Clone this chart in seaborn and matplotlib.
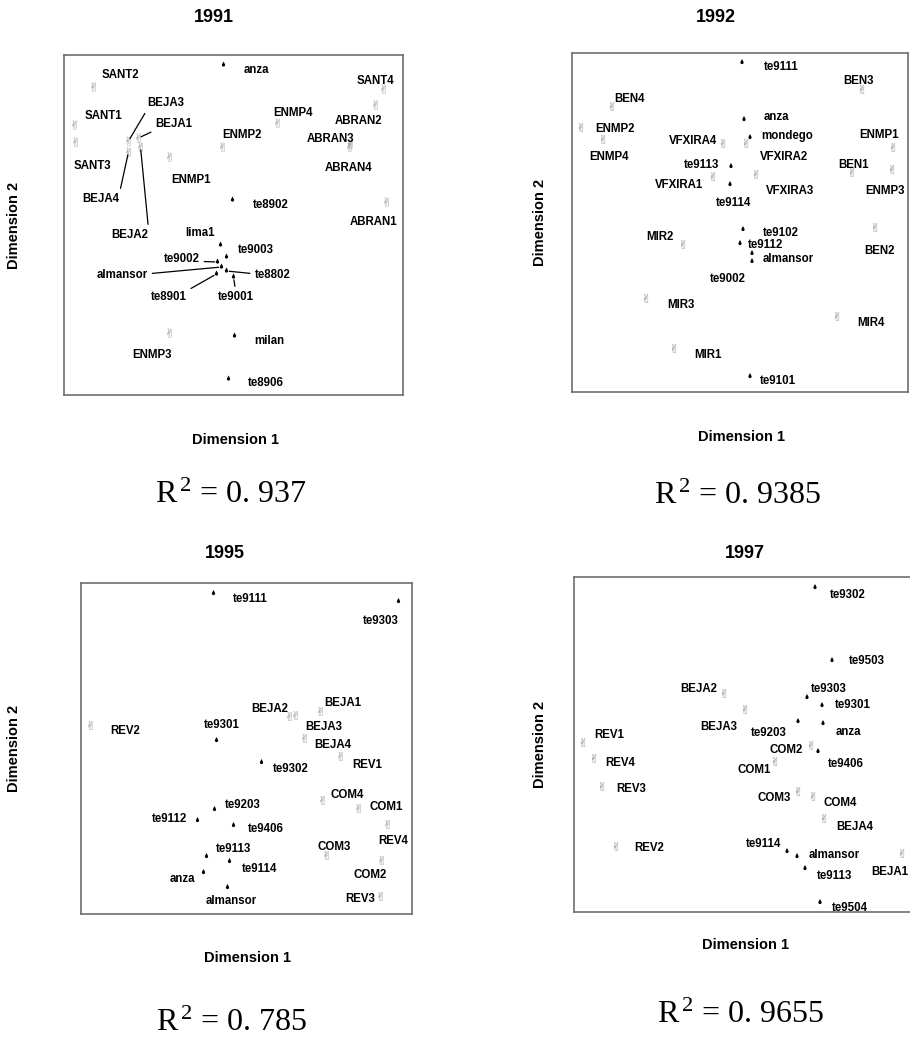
import numpy as np
import pandas as pd
import matplotlib
matplotlib.use("Agg")
import matplotlib.pyplot as plt
import seaborn as sns
from matplotlib.path import Path
from matplotlib.textpath import TextPath
from matplotlib.font_manager import FontProperties

sns.set_theme(style="white")
plt.rcParams["font.family"] = ["Liberation Sans", "DejaVu Sans"]
plt.rcParams["text.color"] = "black"
plt.rcParams["axes.labelcolor"] = "black"
plt.rcParams["mathtext.fontset"] = "custom"
plt.rcParams["mathtext.rm"] = "Liberation Serif"
plt.rcParams["mathtext.it"] = "Liberation Serif:italic"

# ---------------- data: MDS configurations per year ----------------
# 1991
names_1991 = ["anza", "te8902", "lima1", "te9003", "te9002", "almansor", "te8802",
              "te8901", "te9001", "milan", "te8906",
              "SANT2", "SANT1", "SANT3", "BEJA3", "BEJA1", "BEJA4", "BEJA2",
              "ENMP1", "ENMP2", "ENMP4", "SANT4", "ABRAN2", "ABRAN3", "ABRAN4",
              "ABRAN1", "ENMP3"]
dim1_1991 = [-0.10, -0.01, -0.13, -0.07, -0.16, -0.12, -0.07, -0.17, 0.00, 0.01, -0.05,
             -1.40, -1.59, -1.58, -1.05, -0.95, -1.05, -0.93,
             -0.64, -0.11, 0.44, 1.50, 1.42, 1.16, 1.17, 1.53, -0.64]
dim2_1991 = [1.60, 0.25, -0.20, -0.32, -0.37, -0.42, -0.46, -0.49, -0.52, -1.11, -1.54,
             1.38, 1.00, 0.83, 0.84, 0.87, 0.73, 0.78,
             0.68, 0.78, 1.02, 1.36, 1.20, 0.78, 0.81, 0.23, -1.08]
kind_1991 = ["genotype"] * 11 + ["environment"] * 16
r2_1991 = "0. 937"

# 1992
names_1992 = ["te9111", "anza", "mondego", "te9113", "te9114", "te9102", "te9112",
              "almansor", "te9002", "te9101",
              "BEN3", "BEN4", "ENMP2", "ENMP4", "VFXIRA4", "VFXIRA2", "VFXIRA1",
              "VFXIRA3", "ENMP1", "BEN1", "ENMP3", "BEN2", "MIR2", "MIR3", "MIR4", "MIR1"]
dim1_1992 = [0.02, 0.04, 0.10, -0.09, -0.10, 0.03, 0.00, 0.12, 0.12, 0.10,
             1.22, -1.28, -1.59, -1.37, -0.17, 0.06, -0.27,
             0.16, 1.53, 1.12, 1.52, 1.35, -0.57, -0.94, 0.97, -0.66]
dim2_1992 = [1.60, 1.03, 0.85, 0.56, 0.38, -0.07, -0.21, -0.31, -0.39, -1.54,
             1.33, 1.16, 0.95, 0.83, 0.79, 0.79, 0.46,
             0.48, 0.75, 0.50, 0.53, -0.05, -0.22, -0.76, -0.94, -1.26]
kind_1992 = ["genotype"] * 10 + ["environment"] * 16
r2_1992 = "0. 9385"

# 1995
names_1995 = ["te9111", "te9303", "te9301", "te9302", "te9203", "te9112", "te9406",
              "te9113", "te9114", "anza", "almansor",
              "REV2", "BEJA2", "BEJA3", "BEJA1", "BEJA4", "REV1", "COM4", "COM1",
              "REV4", "COM3", "COM2", "REV3"]
dim1_1995 = [-0.33, 1.52, -0.30, 0.15, -0.32, -0.49, -0.13, -0.40, -0.17, -0.43, -0.19,
             -1.56, 0.43, 0.49, 0.74, 0.58, 0.94, 0.76, 1.12,
             1.41, 0.80, 1.35, 1.34]
dim2_1995 = [1.55, 1.47, 0.08, -0.14, -0.61, -0.72, -0.77, -1.08, -1.13, -1.24, -1.39,
             0.23, 0.32, 0.33, 0.37, 0.10, -0.08, -0.52, -0.60,
             -0.76, -1.07, -1.12, -1.48]
kind_1995 = ["genotype"] * 11 + ["environment"] * 12
r2_1995 = "0. 785"

# 1997
names_1997 = ["te9302", "te9503", "te9303", "te9301", "te9203", "anza", "te9406",
              "te9114", "almansor", "te9113", "te9504",
              "BEJA2", "BEJA3", "REV1", "REV4", "REV3", "REV2", "COM2", "COM1",
              "COM3", "COM4", "BEJA4", "BEJA1"]
dim1_1997 = [0.71, 0.88, 0.63, 0.78, 0.54, 0.79, 0.74, 0.43, 0.53, 0.61, 0.76,
             -0.20, 0.01, -1.61, -1.50, -1.42, -1.28, 0.67, 0.31,
             0.54, 0.69, 0.80, 1.58]
dim2_1997 = [1.57, 0.84, 0.47, 0.39, 0.23, 0.21, -0.07, -1.07, -1.12, -1.24, -1.58,
             0.51, 0.35, 0.02, -0.14, -0.42, -1.02, -0.01, -0.17,
             -0.47, -0.52, -0.74, -1.09]
kind_1997 = ["genotype"] * 11 + ["environment"] * 12
r2_1997 = "0. 9655"

# ---------------- layout: label offsets (pixels, right / up) ----------------
offsets_1991 = {
    "anza": (20, -5), "te8902": (20, -5), "lima1": (-35, 12), "te9003": (11, 7),
    "te9002": (-54, 3), "almansor": (-125, -8), "te8802": (28, -4),
    "te8901": (-66, -23), "te9001": (-16, -20), "milan": (20, -5), "te8906": (19, -4),
    "SANT2": (8, 12), "SANT1": (10, 9), "SANT3": (-2, -24), "BEJA3": (19, 38),
    "BEJA1": (17, 14), "BEJA4": (-46, -47), "BEJA2": (-29, -88), "ENMP1": (2, -23),
    "ENMP2": (0, 12), "ENMP4": (-4, 10), "SANT4": (-27, 8), "ABRAN2": (-41, -16),
    "ABRAN3": (-43, 8), "ABRAN4": (-26, -24), "ABRAN1": (-37, -20), "ENMP3": (-37, -22),
}
leaders_1991 = {
    "BEJA3": (0, 0), "BEJA1": (0, 0), "BEJA4": (1, 1), "BEJA2": (1, 1),
    "te9002": (1, 0.3), "almansor": (1, 0.6), "te8802": (0, 0.6),
    "te8901": (1, 1), "te9001": (0.5, 1),
}
offsets_1992 = {
    "te9111": (22, -5), "anza": (20, 3), "mondego": (11, 1), "te9113": (-47, 1),
    "te9114": (-14, -18), "te9102": (20, -4), "te9112": (8, -2), "almansor": (11, -6),
    "te9002": (-42, -18), "te9101": (10, -5),
    "BEN3": (-19, 8), "BEN4": (2, 7), "ENMP2": (14, -2), "ENMP4": (-14, -18),
    "VFXIRA4": (-54, 3), "VFXIRA2": (14, -13), "VFXIRA1": (-58, -9),
    "VFXIRA3": (10, -16), "ENMP1": (-34, 12), "BEN1": (-14, 7), "ENMP3": (-27, -22),
    "BEN2": (-11, -23), "MIR2": (-37, 7), "MIR3": (21, -6), "MIR4": (20, -7),
    "MIR1": (20, -6),
}
offsets_1995 = {
    "te9111": (19, -5), "te9303": (-36, -20), "te9301": (-13, 16), "te9302": (11, -7),
    "te9203": (10, 4), "te9112": (-46, 1), "te9406": (14, -3), "te9113": (9, 7),
    "te9114": (12, -7), "anza": (-34, -6), "almansor": (-22, -14),
    "REV2": (20, -5), "BEJA2": (-38, 7), "BEJA3": (10, -12), "BEJA1": (4, 9),
    "BEJA4": (10, -6), "REV1": (12, -8), "COM4": (8, 5), "COM1": (11, 2),
    "REV4": (-9, -16), "COM3": (-9, 8), "COM2": (-28, -15), "REV3": (-35, -2),
}
offsets_1997 = {
    "te9302": (15, -7), "te9503": (17, 0), "te9303": (4, 9), "te9301": (13, 1),
    "te9203": (-47, -11), "anza": (13, -8), "te9406": (10, -12), "te9114": (-41, 8),
    "almansor": (12, 2), "te9113": (12, -7), "te9504": (12, -5),
    "BEJA2": (-44, 5), "BEJA3": (-45, -17), "REV1": (11, 8), "REV4": (11, -4),
    "REV3": (14, -2), "REV2": (18, -1), "COM2": (-41, -4), "COM1": (-38, -8),
    "COM3": (-40, -6), "COM4": (11, -6), "BEJA4": (12, -8), "BEJA1": (-31, -18),
}

# ---------------- markers ----------------
ang = np.deg2rad(np.linspace(27, -207, 40))
drop_verts = np.vstack([[0, 2.2], np.column_stack([np.cos(ang), np.sin(ang)]), [0, 2.2]])
drop = Path(drop_verts, closed=True)

tp = TextPath((0, 0), "\u270c", size=10, prop=FontProperties(family="DejaVu Sans"))
ext = tp.get_extents()
hv = tp.vertices.copy()
hv[:, 0] -= (ext.x0 + ext.x1) / 2
hv[:, 1] -= (ext.y0 + ext.y1) / 2
hand = Path(hv, tp.codes)

W, H = 910, 1041
fig = plt.figure(figsize=(W / 100, H / 100), dpi=100)


def box(left, top, right, bottom):
    return [left / W, 1 - bottom / H, (right - left) / W, (bottom - top) / H]


panels = [
    dict(year="1991", names=names_1991, d1=dim1_1991, d2=dim2_1991, kind=kind_1991,
         r2=r2_1991, offsets=offsets_1991, leaders=leaders_1991,
         rect=(64, 55, 403, 395), title_xy=(214, 18), xlab_xy=(235, 440),
         ylab_xy=(14, 225), r2_xy=(231, 495)),
    dict(year="1992", names=names_1992, d1=dim1_1992, d2=dim2_1992, kind=kind_1992,
         r2=r2_1992, offsets=offsets_1992, leaders={},
         rect=(572, 53, 908, 392), title_xy=(716, 18), xlab_xy=(742, 437),
         ylab_xy=(540, 222), r2_xy=(737, 496)),
    dict(year="1995", names=names_1995, d1=dim1_1995, d2=dim2_1995, kind=kind_1995,
         r2=r2_1995, offsets=offsets_1995, leaders={},
         rect=(81, 583, 412, 914), title_xy=(225, 554), xlab_xy=(247, 958),
         ylab_xy=(14, 748), r2_xy=(231, 1023)),
    dict(year="1997", names=names_1997, d1=dim1_1997, d2=dim2_1997, kind=kind_1997,
         r2=r2_1997, offsets=offsets_1997, leaders={},
         rect=(574, 577, 914, 912), title_xy=(745, 554), xlab_xy=(745, 945),
         ylab_xy=(540, 744), r2_xy=(740, 1015)),
]

for p in panels:
    l, t, r, b = p["rect"]
    ax = fig.add_axes(box(l, t, r, b))
    df = pd.DataFrame({"name": p["names"], "dim1": p["d1"], "dim2": p["d2"],
                       "kind": p["kind"]})
    sns.scatterplot(data=df[df.kind == "environment"], x="dim1", y="dim2", ax=ax,
                    marker=hand, s=45, color="#8a8a8a", linewidth=0, edgecolor="none",
                    legend=False)
    sns.scatterplot(data=df[df.kind == "genotype"], x="dim1", y="dim2", ax=ax,
                    marker=drop, s=26, color="black", linewidth=0, edgecolor="none",
                    legend=False)
    hw = (r - l) / 200
    hh = (b - t) / 200
    ax.set_xlim(-hw, hw)
    ax.set_ylim(-hh, hh)
    ax.set_xticks([])
    ax.set_yticks([])
    for sp in ax.spines.values():
        sp.set_color("#6e6e6e")
        sp.set_linewidth(1.2)

    for row in df.itertuples():
        dx, dy = p["offsets"][row.name]
        kw = {}
        if row.name in p["leaders"]:
            kw["arrowprops"] = dict(arrowstyle="-", color="black", lw=0.9,
                                    shrinkA=1, shrinkB=2, relpos=p["leaders"][row.name])
        ax.annotate(row.name, xy=(row.dim1, row.dim2), xytext=(dx, dy),
                    textcoords="offset pixels", ha="left", va="center",
                    fontsize=8.3, fontweight="bold", color="black", **kw)

    ax.set_xlabel("Dimension 1", fontsize=10.5, fontweight="bold", color="black")
    ax.xaxis.set_label_coords((p["xlab_xy"][0] - l) / (r - l), (b - p["xlab_xy"][1]) / (b - t))
    ax.xaxis.label.set_va("center")
    ax.set_ylabel("Dimension 2", fontsize=10.5, fontweight="bold", color="black")
    ax.yaxis.set_label_coords((p["ylab_xy"][0] - l) / (r - l), (b - p["ylab_xy"][1]) / (b - t))
    ax.yaxis.label.set_va("center")

    fig.text(p["title_xy"][0] / W, 1 - p["title_xy"][1] / H, p["year"],
             ha="center", va="center", fontsize=13, fontweight="bold", color="black")
    fig.text(p["r2_xy"][0] / W, 1 - p["r2_xy"][1] / H, r"R$^{\,2}$ = " + p["r2"],
             ha="center", va="center", fontsize=23, family="Liberation Serif",
             color="black")

fig.savefig("out.png", dpi=100, facecolor="white")
